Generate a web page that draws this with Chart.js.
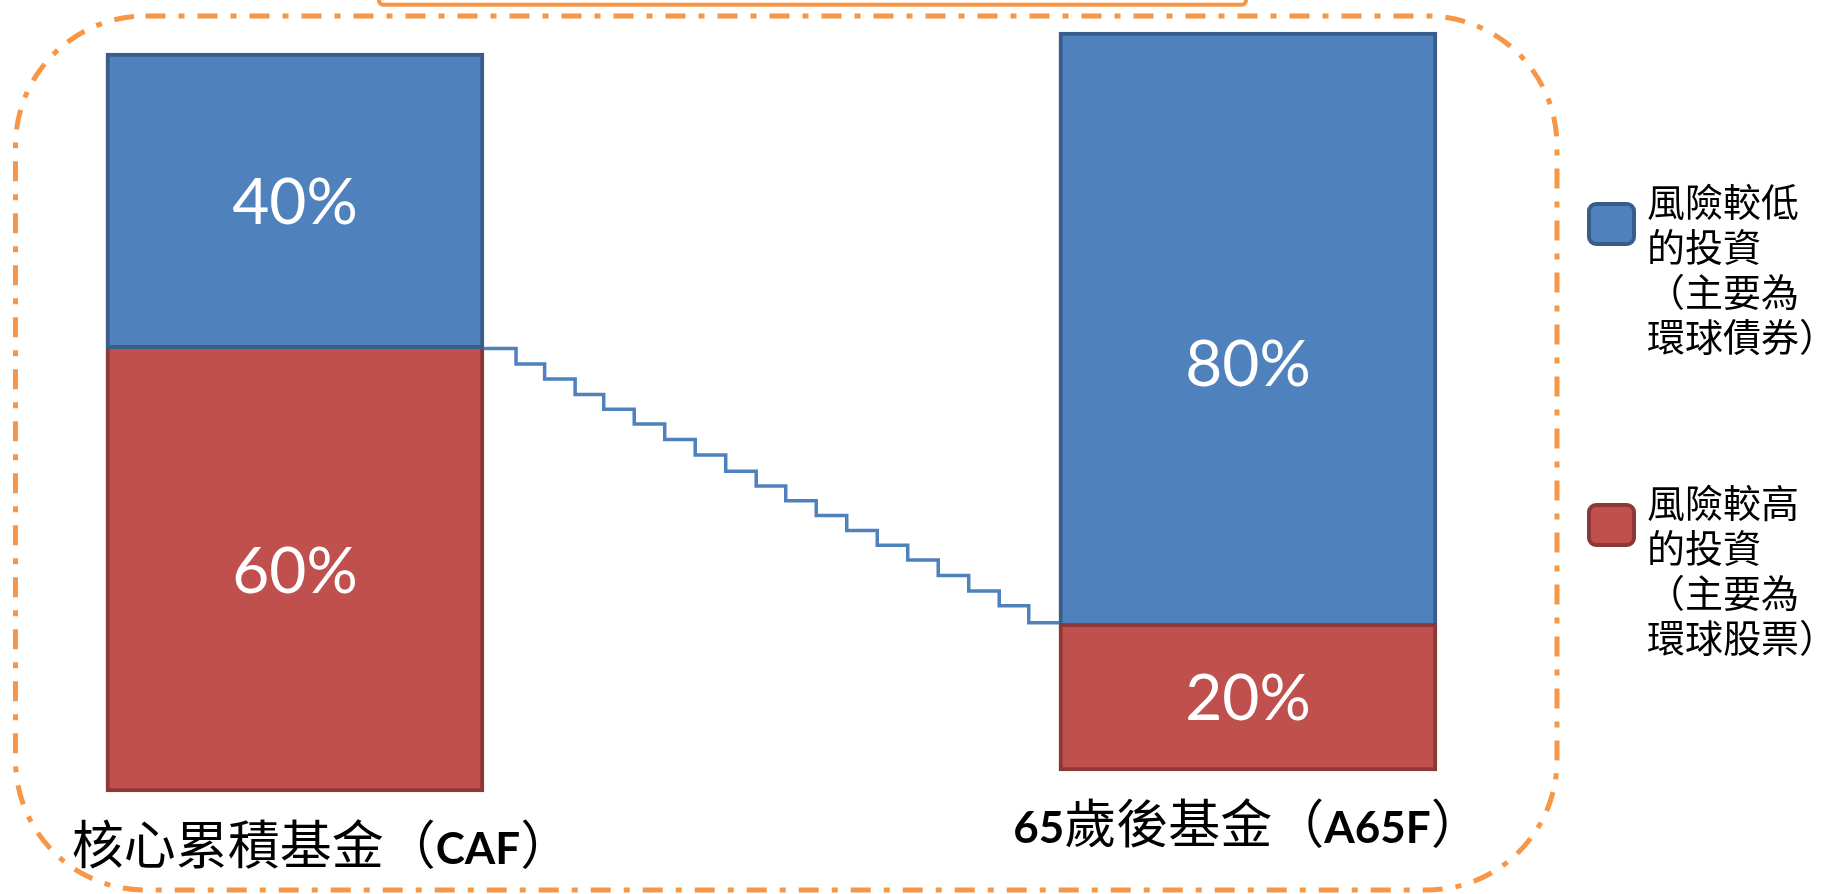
<!DOCTYPE html>
<html lang="zh-Hant">
<head>
<meta charset="UTF-8">
<title>核心累積基金 與 65歲後基金</title>
<script src="https://cdn.jsdelivr.net/npm/chart.js@4.4.1/dist/chart.umd.min.js"></script>
<style>
  html, body { margin: 0; padding: 0; background: #fff; overflow: hidden; }
  .chart-container { position: relative; width: 1839px; height: 894px; }
</style>
</head>
<body>
<div class="chart-container"><canvas id="fundChart"></canvas></div>
<script>
// fund names shown under the bars
const funds = ['核心累積基金（CAF）', '65歲後基金（A65F）'];
// share of each fund (%)
const lowRiskShare = [40, 80];   // 風險較低 (blue, top)
const highRiskShare = [60, 20];  // 風險較高 (red, bottom)

const lowRiskLegend = ['風險較低', '的投資', '（主要為', '環球債券）'];
const highRiskLegend = ['風險較高', '的投資', '（主要為', '環球股票）'];

// staircase from the CAF split down to the A65F split (x in fund index units, y in %)
const glideX = [0.198, 0.232, 0.262, 0.294, 0.324, 0.356, 0.388, 0.420, 0.452, 0.484,
                0.515, 0.547, 0.579, 0.611, 0.643, 0.675, 0.707, 0.739, 0.770, 0.802];
const glideY = [60, 57.9, 55.9, 53.8, 51.8, 49.8, 47.7, 45.6, 43.4, 41.4,
                39.4, 37.4, 35.4, 33.4, 31.4, 29.3, 27.2, 25.2, 22.9, 22.9];

// the A65F bar sits a little higher than the CAF one in the picture
const barLift = [0, 2.84];

const blue = '#4F81BD', blueEdge = '#385D8A';
const red = '#C0504D', redEdge = '#8C3836';
const orange = '#F79646';

const highRiskData = funds.map((f, i) => ({ x: i, y: [barLift[i], barLift[i] + highRiskShare[i]] }));
const lowRiskData = funds.map((f, i) => ({
  x: i, y: [barLift[i] + highRiskShare[i], barLift[i] + highRiskShare[i] + lowRiskShare[i]]
}));

// dashed rounded frame + the box edge peeking in at the top
const frame = {
  id: 'frame',
  beforeDraw(chart) {
    const ctx = chart.ctx;
    ctx.save();
    ctx.strokeStyle = orange;
    ctx.lineWidth = 4;
    ctx.beginPath();
    ctx.roundRect(379, -30, 867, 34.7, 4);
    ctx.stroke();

    ctx.lineWidth = 5;
    ctx.setLineDash([20, 13, 6, 13]);
    ctx.beginPath();
    ctx.roundRect(15.5, 16, 1541.5, 874, 130);
    ctx.stroke();
    ctx.restore();
  }
};

const valueLabels = {
  id: 'valueLabels',
  afterDatasetsDraw(chart) {
    const ctx = chart.ctx;
    // the 80% label sits below the middle of its block in the picture
    const drop = [[0, 0], [0, 35]];
    ctx.save();
    ctx.fillStyle = '#fff';
    ctx.font = '64px Lato, "Open Sans", sans-serif';
    ctx.textAlign = 'center';
    ctx.textBaseline = 'alphabetic';
    const shares = [highRiskShare, lowRiskShare];
    [0, 1].forEach(d => {
      chart.getDatasetMeta(d).data.forEach((bar, i) => {
        const c = bar.getCenterPoint();
        ctx.fillText(shares[d][i] + '%', c.x, c.y + 23 + drop[d][i]);
      });
    });
    ctx.restore();
  }
};

// fund names: CJK regular, latin runs bold
const fundLabels = {
  id: 'fundLabels',
  afterDraw(chart) {
    const ctx = chart.ctx;
    const xs = chart.scales.x, ys = chart.scales.y;
    const cjkFont = '52px "Noto Sans CJK TC", sans-serif';
    const latinFont = 'bold 44px Lato, "Open Sans", sans-serif';
    const nudge = [27, 0];
    ctx.save();
    ctx.fillStyle = '#000';
    ctx.textBaseline = 'alphabetic';
    ctx.textAlign = 'left';
    funds.forEach((name, i) => {
      const runs = name.split(/([A-Za-z0-9]+)/).filter(s => s.length);
      const parts = runs.map(s => {
        const font = /^[A-Za-z0-9]+$/.test(s) ? latinFont : cjkFont;
        ctx.font = font;
        return { s, font, w: ctx.measureText(s).width };
      });
      const total = parts.reduce((a, p) => a + p.w, 0);
      let x = xs.getPixelForValue(i) + nudge[i] - total / 2;
      const y = ys.getPixelForValue(barLift[i]) + 72;
      parts.forEach(p => {
        ctx.font = p.font;
        ctx.fillText(p.s, x, y);
        x += p.w;
      });
    });
    ctx.restore();
  }
};

const sideLegend = {
  id: 'sideLegend',
  afterDraw(chart) {
    const ctx = chart.ctx;
    const firstLine = [202, 503];
    const entries = chart.data.datasets.filter(ds => ds.legendLines)
      .sort((a, b) => a.legendOrder - b.legendOrder);
    ctx.save();
    entries.forEach((ds, k) => {
      const y0 = firstLine[k];
      ctx.fillStyle = ds.backgroundColor;
      ctx.strokeStyle = ds.borderColor;
      ctx.lineWidth = 4;
      ctx.beginPath();
      ctx.roundRect(1589, y0 + 2, 45, 40, 7);
      ctx.fill();
      ctx.stroke();
      ctx.fillStyle = '#000';
      ctx.font = '38px "Noto Sans CJK TC", sans-serif';
      ctx.textBaseline = 'middle';
      ctx.textAlign = 'left';
      ds.legendLines.forEach((line, j) => ctx.fillText(line, 1647, y0 + j * 45));
    });
    ctx.restore();
  }
};

const ctx = document.getElementById('fundChart').getContext('2d');
const fundChart = new Chart(ctx, {
  type: 'bar',
  data: {
    datasets: [
      {
        label: '風險較高的投資（主要為環球股票）',
        legendLines: highRiskLegend,
        legendOrder: 2,
        data: highRiskData,
        backgroundColor: red,
        borderColor: redEdge,
        borderWidth: 4,
        borderSkipped: c => c.dataIndex === 0 ? 'end' : false,
        barThickness: 378,
        grouped: false,
        order: 2
      },
      {
        label: '風險較低的投資（主要為環球債券）',
        legendLines: lowRiskLegend,
        legendOrder: 1,
        data: lowRiskData,
        backgroundColor: blue,
        borderColor: blueEdge,
        borderWidth: 4,
        borderSkipped: c => c.dataIndex === 1 ? 'start' : false,
        barThickness: 378,
        grouped: false,
        order: 1
      },
      {
        type: 'line',
        label: '',
        data: glideX.map((x, i) => ({ x: x, y: glideY[i] })),
        borderColor: blue,
        borderWidth: 3.5,
        stepped: 'before',
        pointRadius: 0,
        fill: false,
        order: 0
      }
    ]
  },
  options: {
    responsive: true,
    maintainAspectRatio: false,
    animation: false,
    layout: { padding: 0 },
    plugins: {
      legend: { display: false },
      tooltip: { enabled: false }
    },
    scales: {
      x: { type: 'linear', display: false, offset: false, min: -0.3095, max: 1.6202 },
      y: { type: 'linear', display: false, min: -13.8, max: 107.17 }
    }
  },
  plugins: [frame, valueLabels, fundLabels, sideLegend]
});
</script>
</body>
</html>
